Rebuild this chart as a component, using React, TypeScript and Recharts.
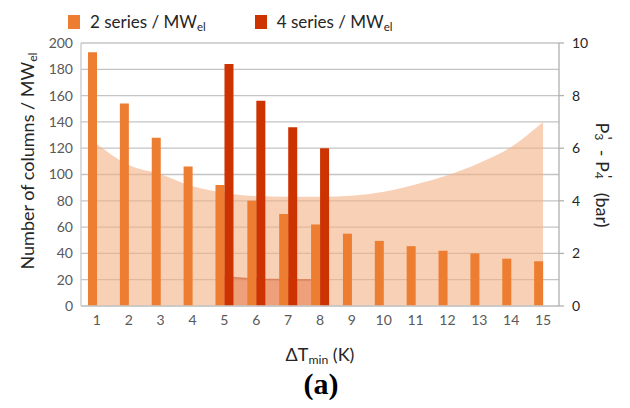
import React from "react";
import {
  ComposedChart,
  Bar,
  Area,
  XAxis,
  YAxis,
  CartesianGrid,
} from "recharts";

const categories = [1, 2, 3, 4, 5, 6, 7, 8, 9, 10, 11, 12, 13, 14, 15];
const twoSeries = [193, 154, 128, 106, 92, 80, 70, 62, 55, 49.5, 45.5, 42, 40, 36, 34];
const fourSeries = [null, null, null, null, 184, 156, 136, 120, null, null, null, null, null, null, null];
const dpTwo = [6.15, 5.36, 5.01, 4.55, 4.3, 4.18, 4.15, 4.15, 4.19, 4.34, 4.62, 4.97, 5.44, 6.05, 7.0];
const dpFour = [null, null, null, null, 1.1, 1.02, 1.0, 0.99, null, null, null, null, null, null, null];
const leftTicks = [0, 20, 40, 60, 80, 100, 120, 140, 160, 180, 200];
const rightTicks = [0, 2, 4, 6, 8, 10];

const data = categories.map((c, i) => ({
  t: c,
  s2: twoSeries[i],
  s4: fourSeries[i],
  dp2: dpTwo[i],
  dp4: dpFour[i],
}));

const ORANGE = "#ED7D31";
const DARK = "#CC3300";
const font = "Lato, 'Open Sans', sans-serif";

const Sub = ({ children }: { children: React.ReactNode }) => (
  <span style={{ fontSize: "0.68em", verticalAlign: "-0.3em" }}>{children}</span>
);

// subscript with a prime stacked above it, like P3'
const PrimeSub = ({ n }: { n: string }) => (
  <span style={{ position: "relative", display: "inline-block", width: "0.65em", height: "1em" }}>
    <span style={{ position: "absolute", left: "0.2em", top: "-0.2em", fontSize: "0.9em" }}>'</span>
    <span style={{ position: "absolute", left: 0, top: "0.55em", fontSize: "0.68em" }}>{n}</span>
  </span>
);

const App = () => {
  return (
    <div style={{ position: "relative", width: 614, height: 392, fontFamily: font }}>
      <ComposedChart
        width={614}
        height={392}
        data={data}
        margin={{ top: 35, right: 23, bottom: 64, left: 33 }}
        barGap={0}
        barCategoryGap="22%"
      >
        <CartesianGrid vertical={false} stroke="#C4C4C4" strokeWidth={1.3} yAxisId="left" />
        <XAxis
          dataKey="t"
          height={30}
          axisLine={{ stroke: "#C8C8C8", strokeWidth: 1.3 }}
          tickLine={false}
          tickSize={7}
          tick={{ fill: "#595959", fontSize: 14, fontFamily: font }}
        />
        <YAxis
          yAxisId="left"
          width={40}
          domain={[0, 200]}
          ticks={leftTicks}
          axisLine={{ stroke: "#C8C8C8", strokeWidth: 1.3 }}
          tickLine={false}
          tick={{ fill: "#595959", fontSize: 14, fontFamily: font }}
        />
        <YAxis
          yAxisId="right"
          orientation="right"
          width={40}
          domain={[0, 10]}
          ticks={rightTicks}
          axisLine={{ stroke: "#B0B0B0", strokeWidth: 1.3 }}
          tickLine={{ stroke: "#B0B0B0", strokeWidth: 1.3 }}
          tickSize={5}
          tickMargin={8}
          tick={{ fill: "#262626", fontSize: 14, fontFamily: font }}
        />
        <Area
          yAxisId="right"
          dataKey="dp2"
          type="monotone"
          fill="#F4B183"
          fillOpacity={0.6}
          stroke="none"
          isAnimationActive={false}
        />
        <Area
          yAxisId="right"
          dataKey="dp4"
          type="linear"
          fill="#E2703F"
          fillOpacity={0.5}
          stroke="#D9835E"
          strokeWidth={1.5}
          isAnimationActive={false}
        />
        <Bar yAxisId="left" dataKey="s2" fill={ORANGE} isAnimationActive={false} />
        <Bar yAxisId="left" dataKey="s4" fill={DARK} isAnimationActive={false} />
      </ComposedChart>

      {/* legend */}
      <div style={{ position: "absolute", left: 60, top: 3, fontSize: 17, color: "#262626", whiteSpace: "nowrap", display: "flex", alignItems: "center" }}>
        <span style={{ display: "inline-block", width: 12, height: 14, background: ORANGE, marginRight: 10 }} />
        <span>2 series / MW<Sub>el</Sub></span>
        <span style={{ display: "inline-block", width: 12, height: 14, background: DARK, marginLeft: 49, marginRight: 10 }} />
        <span>4 series / MW<Sub>el</Sub></span>
      </div>

      {/* left axis title */}
      <div
        style={{
          position: "absolute",
          left: 20,
          top: 153,
          transform: "translate(-50%, -50%) rotate(-90deg)",
          fontSize: 18,
          color: "#262626",
          whiteSpace: "nowrap",
        }}
      >
        Number of columns / MW<Sub>el</Sub>
      </div>

      {/* right axis title */}
      <div
        style={{
          position: "absolute",
          left: 595,
          top: 167,
          transform: "translate(-50%, -50%) rotate(90deg)",
          fontSize: 18,
          color: "#262626",
          whiteSpace: "nowrap",
        }}
      >
        P<PrimeSub n="3" /> - P<PrimeSub n="4" />&nbsp; (bar)
      </div>

      {/* x axis title */}
      <div
        style={{
          position: "absolute",
          left: 312,
          top: 347,
          transform: "translate(-50%, -50%)",
          fontSize: 18,
          color: "#262626",
          whiteSpace: "nowrap",
        }}
      >
        ΔT<Sub>min</Sub> (K)
      </div>

      <div
        style={{
          position: "absolute",
          left: 313,
          top: 376,
          transform: "translate(-50%, -50%)",
          fontSize: 30,
          fontWeight: "bold",
          fontFamily: "'Liberation Serif', 'Times New Roman', serif",
          color: "#000",
          whiteSpace: "nowrap",
        }}
      >
        (a)
      </div>
    </div>
  );
};

export default App;
